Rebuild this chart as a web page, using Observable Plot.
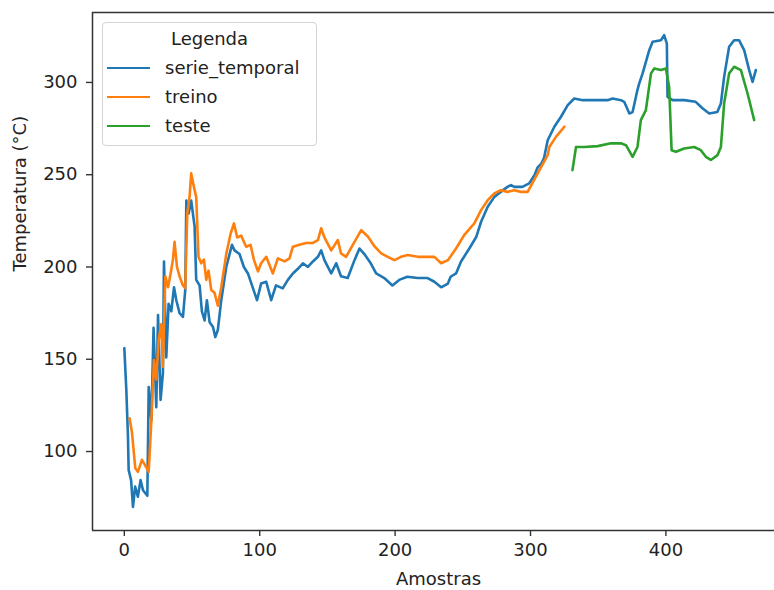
<!DOCTYPE html>
<html><head><meta charset="utf-8">
<script src="https://cdn.jsdelivr.net/npm/d3@7"></script>
<script src="https://cdn.jsdelivr.net/npm/@observablehq/plot@0.6"></script>
<style>
html,body{margin:0;padding:0;background:#fff;overflow:hidden;}
#wrap{position:relative;width:774px;height:590px;font-family:"DejaVu Sans",sans-serif;color:#222;}
.legend{position:absolute;left:102px;top:22px;width:215px;height:124px;border:1px solid #d4d4d4;border-radius:4px;background:rgba(255,255,255,0.85);box-sizing:border-box;}
.legend .title{position:absolute;left:0;width:100%;top:5px;text-align:center;font-size:18px;}
.legend .item{position:absolute;left:4px;font-size:18px;height:22px;line-height:22px;}
.legend .item span.sw{position:absolute;left:0;top:10px;width:43px;height:0;border-top:2.6px solid;}
.legend .item span.lb{position:absolute;left:58px;top:0;white-space:nowrap;}
</style>
</head><body><div id="wrap"></div>
<script>
const seriesNames = ["serie_temporal", "treino", "teste"];
const seriesColors = ["#1f77b4", "#ff7f0e", "#2ca02c"];
const legendTitle = "Legenda";
const xLabel = "Amostras";
const yLabel = "Temperatura (°C)";
const xTicks = [0, 100, 200, 300, 400];
const yTicks = [100, 150, 200, 250, 300];

const serieX = [0,1.5,2.7,3.2,5,6.4,8,10,12,13.8,17,18,20,21.6,23.6,24.9,26.8,28.5,29.3,31,32.7,34.7,36.7,38.4,40.8,43.3,45,45.8,47.5,49.4,51.9,53.1,55.6,57.3,59.3,61,63,65.5,67.2,69.1,71.6,75.3,79.5,81.4,85.1,88.3,91.3,95,98,101,104.8,108.5,112,117,120.8,124.5,128.2,131.9,135.6,139.3,143,145.4,147.8,152.8,156.5,160,165,170,173.7,177.3,182,186,192,198,203,209,216.7,224,229,234,239,241,245,248.7,254.8,260,263.5,268.4,273.3,278,283,285.6,288,294,299,303,305.3,308,310,312.7,317.6,322.5,327.5,332.3,338.5,347,357,360.6,366.8,369.2,373,375.4,379,380.3,382.8,387.7,390.2,396.3,398.7,400.7,401.2,405,413.5,422,427,432,438,440.6,443,446.7,450.4,454,457.8,461.5,464,466.4];
const serieY = [156,133,108,90,84.5,70,81,75.5,84.5,79,76,135,117,167,124,174,128,142.5,203,151,180,176,189,182,175,173,187.5,236,229,236,222,193,190,176,171,182,170,167.5,162,166,182,200,212,209,207,200,196.5,188.5,182,191,192,182,190,188.4,193,196.5,199,202,200,203,205.5,209,203.7,196.5,202,195,194,203.7,210,207,202,196.5,194,190,193,194.7,194,194,192,189,191,194.7,196.5,203,210,216.4,224.5,232.6,238,240.7,243.4,244.4,243.4,243.4,245.3,249.8,254,256,259,268.7,276,281.4,287.7,291.3,290.4,290.4,290.4,291.3,290.4,289.5,283.2,284,296,299.5,304.9,317.5,322,322.9,325.6,321,292.2,290.4,290.4,289.5,286,283.2,284,288.6,303,319.3,322.9,322.9,317.5,306.7,300.3,306.7];

const treinoX = [3.9,5.7,8.1,10,13,15,18,20,21.9,23.6,25.3,27.3,28.5,30.3,32.3,34.2,35.9,37.1,38.9,40.8,43.3,45,46.5,48.2,49.4,51.4,53.1,54.8,56.8,58.8,60.5,62.2,64.2,66.6,69.1,71.6,75.3,78.5,81,83.4,86.3,90,93.2,95.7,98.7,101,104.8,109.7,113.4,118.3,122,124.5,129.4,134.3,139.3,143,145.4,147.8,152.8,157.7,160,163.8,170,175,180,185,189.7,194.6,199.5,204.4,209.3,216.7,224,229,234,239,245,251,258.5,263.5,268.4,273.3,278,283,288,293,297.9,302.6,307.7,312.7,313.9,318.8,325];
const treinoY = [118,110,91,89,95.5,93,89,117,149.6,139,160,169,146,195,189,196.5,204,213.6,200,195,190,188.5,229,238,250.7,243.4,238,205.5,202,204,193,198,187.5,186,179,189,207,218,223.6,216,217,211,212,204,197.6,202,205.5,196.5,204.7,203,204.7,211,212,213,213,214.6,221,216,209,214.6,207.4,205.5,213.6,220,216.4,211,207.4,205.5,203.7,205.5,206.5,205.5,205.5,205.5,202,203.7,210,217.3,223.6,230.8,236.2,239.9,241.6,240.7,241.6,240.7,240.7,247,254,260.6,265,270.5,276];

const testeX = [331,333.6,339.7,349.6,359.4,366.8,370.5,375.4,379,381.5,385.2,389,391.4,396.3,400,402.4,404.2,407.4,413.5,420.9,425.8,429.5,433.2,438.1,440.6,443,446.7,450.4,455.4,460.3,465.2];
const testeY = [252.5,265,265,265.5,267,267,266,259.7,265,279.6,285,304.9,307.6,306.7,307.6,297.6,263.3,262.4,264.2,265,263.3,259.7,258,260.6,265,288.6,304.9,308.5,306.7,294,279.6];

const toRows = (xs, ys) => xs.map((x, i) => ({x, y: ys[i]}));
const series = [toRows(serieX, serieY), toRows(treinoX, treinoY), toRows(testeX, testeY)];

const xDom = [-23.5, 493.5];
const yDom = [57.2, 337.9];

const chart = Plot.plot({
  width: 774, height: 590,
  marginLeft: 92, marginRight: 0, marginTop: 12, marginBottom: 60,
  style: {fontFamily: "DejaVu Sans, sans-serif", fontSize: "18px", color: "#222", background: "#fff"},
  x: {domain: xDom, range: [92, 792]},
  y: {domain: yDom},
  marks: [
    ...series.map((d, i) => Plot.line(d, {x: "x", y: "y", stroke: seriesColors[i], strokeWidth: 2.6, strokeLinejoin: "round"})),
    Plot.ruleX([xDom[0]], {stroke: "#333", strokeWidth: 1.5}),
    Plot.ruleY(yDom, {stroke: "#333", strokeWidth: 1.5}),
    Plot.axisX({ticks: xTicks, tickSize: 6, tickPadding: 7, label: null, fontSize: 18, stroke: "#333", strokeWidth: 1.4}),
    Plot.axisY({ticks: yTicks, tickSize: 6, tickPadding: 9, label: null, fontSize: 18, stroke: "#333", strokeWidth: 1.4}),
    Plot.text([yLabel], {frameAnchor: "left", rotate: -90, dx: -72, fontSize: 18, fill: "#222"}),
    Plot.text([xLabel], {frameAnchor: "bottom", dy: 54, dx: 5, fontSize: 18, fill: "#222"})
  ]
});
const wrap = document.getElementById("wrap");
wrap.appendChild(chart);

const leg = document.createElement("div");
leg.className = "legend";
const t = document.createElement("div");
t.className = "title"; t.textContent = legendTitle;
leg.appendChild(t);
const tops = [34, 63, 92];
seriesNames.forEach((n, i) => {
  const it = document.createElement("div");
  it.className = "item";
  it.style.top = tops[i] + "px";
  const sw = document.createElement("span"); sw.className = "sw"; sw.style.borderColor = seriesColors[i];
  const lb = document.createElement("span"); lb.className = "lb"; lb.textContent = n;
  it.appendChild(sw); it.appendChild(lb);
  leg.appendChild(it);
});
wrap.appendChild(leg);
</script>
</body></html>
